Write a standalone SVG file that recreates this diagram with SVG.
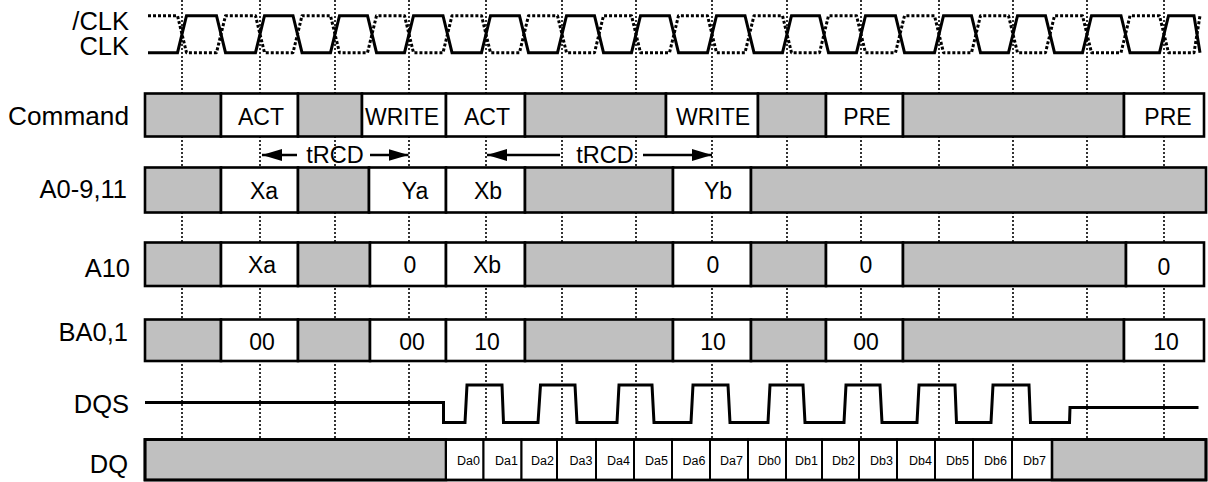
<svg xmlns="http://www.w3.org/2000/svg" width="1208" height="482" viewBox="0 0 1208 482">
<style>
text{font-family:"Liberation Sans",Arial,sans-serif;fill:#000}
.lbl{font-size:25.5px;text-anchor:end}
.bt{font-size:23px;text-anchor:middle}
.tt{font-size:23.5px;text-anchor:middle}
.dt{font-size:12.5px;text-anchor:end}
.grid{stroke:#000;stroke-width:1.6;stroke-dasharray:2 2;fill:none}
.g{fill:#c0c0c0;stroke:#000;stroke-width:2.6}
.w{fill:#fff;stroke:#000;stroke-width:2.6}
.dc{fill:#fff;stroke:#000;stroke-width:2}
.sig{fill:none;stroke:#000;stroke-width:3;stroke-linejoin:miter}
.sigd{fill:none;stroke:#000;stroke-width:3;stroke-dasharray:3 2;stroke-linejoin:round}
.arr{stroke:#000;stroke-width:2.5;fill:none}
</style>
<defs>
<marker id="ah" viewBox="0 0 20 12" refX="20" refY="6" markerWidth="20" markerHeight="12" markerUnits="userSpaceOnUse" orient="auto">
<path d="M0,0 L20,6 L0,12 Z" fill="#000"/>
</marker>
</defs>

<g id="labels">
<text class="lbl" x="129" y="29.5">/CLK</text>
<text class="lbl" x="129" y="55">CLK</text>
<text class="lbl" x="129" y="125" textLength="121" lengthAdjust="spacingAndGlyphs">Command</text>
<text class="lbl" x="127" y="198">A0-9,11</text>
<text class="lbl" x="130" y="277">A10</text>
<text class="lbl" x="128" y="341">BA0,1</text>
<text class="lbl" x="129" y="412.5">DQS</text>
<text class="lbl" x="128" y="473">DQ</text>
</g>

<g id="grid">
<line class="grid" x1="182" y1="0" x2="182" y2="439"/>
<line class="grid" x1="260" y1="0" x2="260" y2="439"/>
<line class="grid" x1="335" y1="0" x2="335" y2="439"/>
<line class="grid" x1="409" y1="0" x2="409" y2="439"/>
<line class="grid" x1="486" y1="0" x2="486" y2="439"/>
<line class="grid" x1="562" y1="0" x2="562" y2="439"/>
<line class="grid" x1="636" y1="0" x2="636" y2="439"/>
<line class="grid" x1="712" y1="0" x2="712" y2="439"/>
<line class="grid" x1="787" y1="0" x2="787" y2="439"/>
<line class="grid" x1="861" y1="0" x2="861" y2="439"/>
<line class="grid" x1="939" y1="0" x2="939" y2="439"/>
<line class="grid" x1="1013" y1="0" x2="1013" y2="439"/>
<line class="grid" x1="1087" y1="0" x2="1087" y2="439"/>
<line class="grid" x1="1164" y1="0" x2="1164" y2="439"/>
</g>

<g id="clock">
<path class="sigd" d="M148,15.7 H177.5 L186.5,52.7 H216.5 L225.5,15.7 H255.5 L264.5,52.7 H293 L302,15.7 H330.5 L339.5,52.7 H367.5 L376.5,15.7 H404.5 L413.5,52.7 H443 L452,15.7 H481.5 L490.5,52.7 H519.5 L528.5,15.7 H557.5 L566.5,52.7 H594.5 L603.5,15.7 H631.5 L640.5,52.7 H669.5 L678.5,15.7 H707.5 L716.5,52.7 H745 L754,15.7 H782.5 L791.5,52.7 H819.5 L828.5,15.7 H856.5 L865.5,52.7 H895.5 L904.5,15.7 H934.5 L943.5,52.7 H971.5 L980.5,15.7 H1008.5 L1017.5,52.7 H1045.5 L1054.5,15.7 H1082.5 L1091.5,52.7 H1121 L1130,15.7 H1159.5 L1168.5,52.7 H1194 L1200,15.7"/>
<path class="sig" d="M148,52.7 H177.5 L186.5,15.7 H216.5 L225.5,52.7 H255.5 L264.5,15.7 H293 L302,52.7 H330.5 L339.5,15.7 H367.5 L376.5,52.7 H404.5 L413.5,15.7 H443 L452,52.7 H481.5 L490.5,15.7 H519.5 L528.5,52.7 H557.5 L566.5,15.7 H594.5 L603.5,52.7 H631.5 L640.5,15.7 H669.5 L678.5,52.7 H707.5 L716.5,15.7 H745 L754,52.7 H782.5 L791.5,15.7 H819.5 L828.5,52.7 H856.5 L865.5,15.7 H895.5 L904.5,52.7 H934.5 L943.5,15.7 H971.5 L980.5,52.7 H1008.5 L1017.5,15.7 H1045.5 L1054.5,52.7 H1082.5 L1091.5,15.7 H1121 L1130,52.7 H1159.5 L1168.5,15.7 H1194 L1200,52.7"/>
</g>

<g id="command">
<rect class="g" x="145" y="93.5" width="76" height="43"/>
<rect class="w" x="221" y="93.5" width="77" height="43"/>
<rect class="g" x="298" y="93.5" width="64" height="43"/>
<rect class="w" x="362" y="93.5" width="84" height="43"/>
<rect class="w" x="446" y="93.5" width="79" height="43"/>
<rect class="g" x="525" y="93.5" width="141" height="43"/>
<rect class="w" x="666" y="93.5" width="92" height="43"/>
<rect class="g" x="758" y="93.5" width="68" height="43"/>
<rect class="w" x="826" y="93.5" width="77" height="43"/>
<rect class="g" x="903" y="93.5" width="221" height="43"/>
<rect class="w" x="1124" y="93.5" width="80" height="43"/>
<text class="bt" x="261" y="125">ACT</text>
<text class="bt" x="402" y="125">WRITE</text>
<text class="bt" x="487" y="125">ACT</text>
<text class="bt" x="713" y="125">WRITE</text>
<text class="bt" x="867" y="125">PRE</text>
<text class="bt" x="1168" y="125">PRE</text>
</g>

<g id="connectors">
<line class="arr" x1="297" y1="155" x2="262" y2="155" marker-end="url(#ah)"/>
<text class="tt" x="335" y="163">tRCD</text>
<line class="arr" x1="370" y1="155" x2="408.5" y2="155" marker-end="url(#ah)"/>
<line class="arr" x1="560" y1="155" x2="487" y2="155" marker-end="url(#ah)"/>
<text class="tt" x="605" y="163">tRCD</text>
<line class="arr" x1="643" y1="155" x2="712" y2="155" marker-end="url(#ah)"/>
</g>

<g id="addr">
<rect class="g" x="145" y="167.5" width="76" height="45"/>
<rect class="w" x="221" y="167.5" width="77" height="45"/>
<rect class="g" x="298" y="167.5" width="71" height="45"/>
<rect class="w" x="369" y="167.5" width="77" height="45"/>
<rect class="w" x="446" y="167.5" width="79" height="45"/>
<rect class="g" x="525" y="167.5" width="148" height="45"/>
<rect class="w" x="673" y="167.5" width="78" height="45"/>
<rect class="g" x="751" y="167.5" width="455" height="45"/>
<text class="bt" x="264" y="198.5">Xa</text>
<text class="bt" x="415" y="198.5">Ya</text>
<text class="bt" x="488" y="198.5">Xb</text>
<text class="bt" x="718" y="198.5">Yb</text>
</g>

<g id="a10">
<rect class="g" x="145" y="242.5" width="76" height="43.5"/>
<rect class="w" x="221" y="242.5" width="77" height="43.5"/>
<rect class="g" x="298" y="242.5" width="72" height="43.5"/>
<rect class="w" x="370" y="242.5" width="76" height="43.5"/>
<rect class="w" x="446" y="242.5" width="79" height="43.5"/>
<rect class="g" x="525" y="242.5" width="148" height="43.5"/>
<rect class="w" x="673" y="242.5" width="78" height="43.5"/>
<rect class="g" x="751" y="242.5" width="75" height="43.5"/>
<rect class="w" x="826" y="242.5" width="77" height="43.5"/>
<rect class="g" x="903" y="242.5" width="223" height="43.5"/>
<rect class="w" x="1126" y="242.5" width="78" height="43.5"/>
<text class="bt" x="262" y="273">Xa</text>
<text class="bt" x="410" y="273">0</text>
<text class="bt" x="487" y="273">Xb</text>
<text class="bt" x="713" y="273">0</text>
<text class="bt" x="866" y="273">0</text>
<text class="bt" x="1164" y="274.5">0</text>
</g>

<g id="ba">
<rect class="g" x="145" y="319.5" width="76" height="41.5"/>
<rect class="w" x="221" y="319.5" width="77" height="41.5"/>
<rect class="g" x="298" y="319.5" width="72" height="41.5"/>
<rect class="w" x="370" y="319.5" width="76" height="41.5"/>
<rect class="w" x="446" y="319.5" width="79" height="41.5"/>
<rect class="g" x="525" y="319.5" width="148" height="41.5"/>
<rect class="w" x="673" y="319.5" width="78" height="41.5"/>
<rect class="g" x="751" y="319.5" width="75" height="41.5"/>
<rect class="w" x="826" y="319.5" width="77" height="41.5"/>
<rect class="g" x="903" y="319.5" width="221" height="41.5"/>
<rect class="w" x="1124" y="319.5" width="80" height="41.5"/>
<text class="bt" x="262" y="349.5">00</text>
<text class="bt" x="412" y="349.5">00</text>
<text class="bt" x="487" y="349.5">10</text>
<text class="bt" x="713" y="349.5">10</text>
<text class="bt" x="866" y="349.5">00</text>
<text class="bt" x="1166" y="349.5">10</text>
</g>

<g id="dqs">
<path class="sig" d="M145,402.5 H443.5 V422.5 H465 L467,385 H502 L503.5,422.5 H538 L540.5,385 H575 L577,422.5 H617 L619,385 H652 L654,422.5 H691 L693,385 H728 L730,422.5 H768 L770,385 H803 L805,422.5 H844 L846,385 H880 L882,422.5 H917 L919,385 H955 L956.5,422.5 H991 L993,385 H1029 L1030.5,422.5 H1069.5 L1070,407.5 H1198.5"/>
</g>

<g id="dq">
<rect class="g" x="145" y="439.5" width="301" height="40.5"/>
<rect class="dc" x="446" y="439.5" width="37.5" height="40.5"/>
<rect class="dc" x="483.5" y="439.5" width="38" height="40.5"/>
<rect class="dc" x="521.5" y="439.5" width="35.5" height="40.5"/>
<rect class="dc" x="557" y="439.5" width="39" height="40.5"/>
<rect class="dc" x="596" y="439.5" width="38" height="40.5"/>
<rect class="dc" x="634" y="439.5" width="38" height="40.5"/>
<rect class="dc" x="672" y="439.5" width="38" height="40.5"/>
<rect class="dc" x="710" y="439.5" width="38" height="40.5"/>
<rect class="dc" x="748" y="439.5" width="38" height="40.5"/>
<rect class="dc" x="786" y="439.5" width="36" height="40.5"/>
<rect class="dc" x="822" y="439.5" width="37" height="40.5"/>
<rect class="dc" x="859" y="439.5" width="38" height="40.5"/>
<rect class="dc" x="897" y="439.5" width="38" height="40.5"/>
<rect class="dc" x="935" y="439.5" width="38" height="40.5"/>
<rect class="dc" x="973" y="439.5" width="39" height="40.5"/>
<rect class="dc" x="1012" y="439.5" width="40" height="40.5"/>
<rect class="g" x="1052" y="439.5" width="154" height="40.5"/>
<rect x="145" y="439.5" width="1061" height="40.5" fill="none" stroke="#000" stroke-width="2.8"/>
<text class="dt" x="480" y="464.5">Da0</text>
<text class="dt" x="518" y="464.5">Da1</text>
<text class="dt" x="554" y="464.5">Da2</text>
<text class="dt" x="592.5" y="464.5">Da3</text>
<text class="dt" x="630" y="464.5">Da4</text>
<text class="dt" x="668" y="464.5">Da5</text>
<text class="dt" x="705.5" y="464.5">Da6</text>
<text class="dt" x="743" y="464.5">Da7</text>
<text class="dt" x="781" y="464.5">Db0</text>
<text class="dt" x="818" y="464.5">Db1</text>
<text class="dt" x="855" y="464.5">Db2</text>
<text class="dt" x="893" y="464.5">Db3</text>
<text class="dt" x="932" y="464.5">Db4</text>
<text class="dt" x="969" y="464.5">Db5</text>
<text class="dt" x="1007" y="464.5">Db6</text>
<text class="dt" x="1046" y="464.5">Db7</text>
</g>
</svg>
